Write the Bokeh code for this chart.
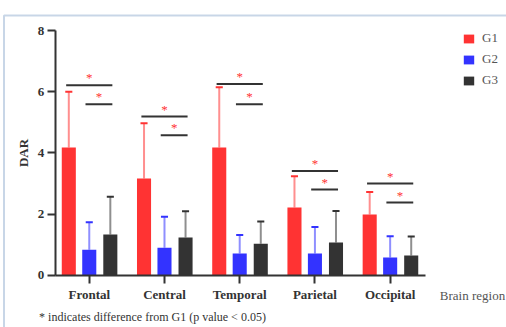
import numpy as np
from bokeh.plotting import figure
from bokeh.models import ColumnDataSource, Range1d, FixedTicker, Label, BoxAnnotation
from bokeh.core.properties import value
from bokeh.embed import file_html
from bokeh.resources import INLINE

# ---- data ----
regions = ["Frontal", "Central", "Temporal", "Parietal", "Occipital"]
groups = ["G1", "G2", "G3"]
g1_mean = [4.18, 3.17, 4.18, 2.22, 1.99]
g2_mean = [0.84, 0.91, 0.72, 0.72, 0.59]
g3_mean = [1.34, 1.24, 1.04, 1.08, 0.65]
g1_sd = [1.82, 1.80, 1.97, 1.02, 0.74]
g2_sd = [0.90, 1.01, 0.60, 0.86, 0.69]
g3_sd = [1.23, 0.86, 0.72, 1.03, 0.62]
sig_upper = [6.21, 5.19, 6.25, 3.41, 3.00]   # G1 - G3 bracket level
sig_lower = [5.59, 4.58, 5.59, 2.81, 2.38]   # G2 - G3 bracket level
y_ticks = [0, 2, 4, 6, 8]
x_title = "Brain region"
y_title = "DAR"
footnote = "* indicates difference from G1 (p value < 0.05)"

# ---- style ----
FONT = "Liberation Serif"
colors = ["#ff3333", "#3333ff", "#333333"]
DARK = "#333333"
offsets = [-0.272, 0.0, 0.28]
bar_w = 0.187
cap = 0.047
X_AXIS_BOUNDS = (-0.4533, 4.4667)
Y_AXIS_BOUNDS = (0, 8)

p = figure(width=506, height=327, output_backend="svg", toolbar_location=None, title=None,
           x_range=Range1d(-1.18, 5.5467), y_range=Range1d(-1.698, 8.9796),
           min_border_left=0, min_border_right=0, min_border_top=0, min_border_bottom=0)
p.outline_line_color = None
p.xgrid.visible = False
p.ygrid.visible = False
p.background_fill_color = "white"
p.border_fill_color = "white"

idx = np.arange(len(regions))
for means, sds, off, c, g in zip([g1_mean, g2_mean, g3_mean], [g1_sd, g2_sd, g3_sd],
                                  offsets, colors, groups):
    m = np.array(means, dtype=float)
    up = m + np.array(sds, dtype=float)
    src = ColumnDataSource(dict(x=idx + off, top=m, up=up, xl=idx + off - cap, xr=idx + off + cap))
    p.segment(x0="x", y0="top", x1="x", y1="up", source=src, line_color=c, line_alpha=0.55, line_width=2)
    p.segment(x0="xl", y0="up", x1="xr", y1="up", source=src, line_color=c, line_width=2)
    p.vbar(x="x", top="top", bottom=0, width=bar_w, source=src, fill_color=c, line_color=None, legend_label=g)

# significance brackets
p.segment(x0=list(idx - 0.307), y0=sig_upper, x1=list(idx + 0.307), y1=sig_upper, line_color=DARK, line_width=2)
p.segment(x0=list(idx - 0.05), y0=sig_lower, x1=list(idx + 0.307), y1=sig_lower, line_color=DARK, line_width=2)
star_x = list(idx + 0.0) + list(idx + 0.13)
star_y = [v + 0.24 for v in sig_upper] + [v + 0.24 for v in sig_lower]
p.text(x=star_x, y=star_y, text=["*"] * len(star_x), text_font=value(FONT), text_font_size="13px",
       text_color="#ff3333", text_align="center", text_baseline="alphabetic")

# axes (drawn inside the frame at fixed locations)
for ax in (p.xaxis[0], p.yaxis[0]):
    ax.axis_line_width = 2
    ax.axis_line_color = DARK
    ax.major_tick_line_width = 2
    ax.major_tick_line_color = DARK
    ax.major_tick_out = 8
    ax.major_tick_in = 0
    ax.minor_tick_out = 0
    ax.minor_tick_in = 0
    ax.major_label_text_font = FONT
    ax.major_label_text_font_size = "13px"
    ax.major_label_text_font_style = "bold"
    ax.major_label_text_color = DARK

p.xaxis.fixed_location = 0
p.xaxis.bounds = X_AXIS_BOUNDS
p.xaxis.ticker = FixedTicker(ticks=[int(i) for i in idx])
p.xaxis.major_label_overrides = {int(i): r for i, r in zip(idx, regions)}
p.xaxis.major_label_standoff = 4
p.yaxis.fixed_location = X_AXIS_BOUNDS[0]
p.yaxis.bounds = Y_AXIS_BOUNDS
p.yaxis.ticker = FixedTicker(ticks=y_ticks)
p.yaxis.major_label_standoff = 3
p.yaxis.axis_label = y_title
p.yaxis.axis_label_text_font = FONT
p.yaxis.axis_label_text_font_size = "13px"
p.yaxis.axis_label_text_font_style = "bold"
p.yaxis.axis_label_text_color = DARK
p.yaxis.axis_label_standoff = 4

# legend (location = bottom-left corner, frame pixels from bottom-left)
leg = p.legend[0]
leg.location = (462, 239)
leg.glyph_width = 13
leg.glyph_height = 11
leg.label_standoff = 7
leg.padding = 0
leg.margin = 0
leg.spacing = 5
leg.label_text_font = FONT
leg.label_text_font_size = "13px"
leg.label_text_color = "#555555"
leg.background_fill_alpha = 0
leg.border_line_color = None

# texts
p.add_layout(Label(x=4.66, y=-0.653, text=x_title, text_font=FONT, text_font_size="13px",
                   text_color="#555555", text_baseline="middle", text_align="left"))
p.add_layout(Label(x=-0.667, y=-1.371, text=footnote, text_font=FONT, text_font_size="12px",
                   text_color=DARK, text_baseline="middle", text_align="left"))

# panel border (top and left edges)
p.add_layout(BoxAnnotation(left=-1.1333, top=8.49, right=20, bottom=-20,
                           fill_color=None, line_color="#4a78b0", line_width=2))

open("out.html", "w").write(file_html(p, INLINE))
